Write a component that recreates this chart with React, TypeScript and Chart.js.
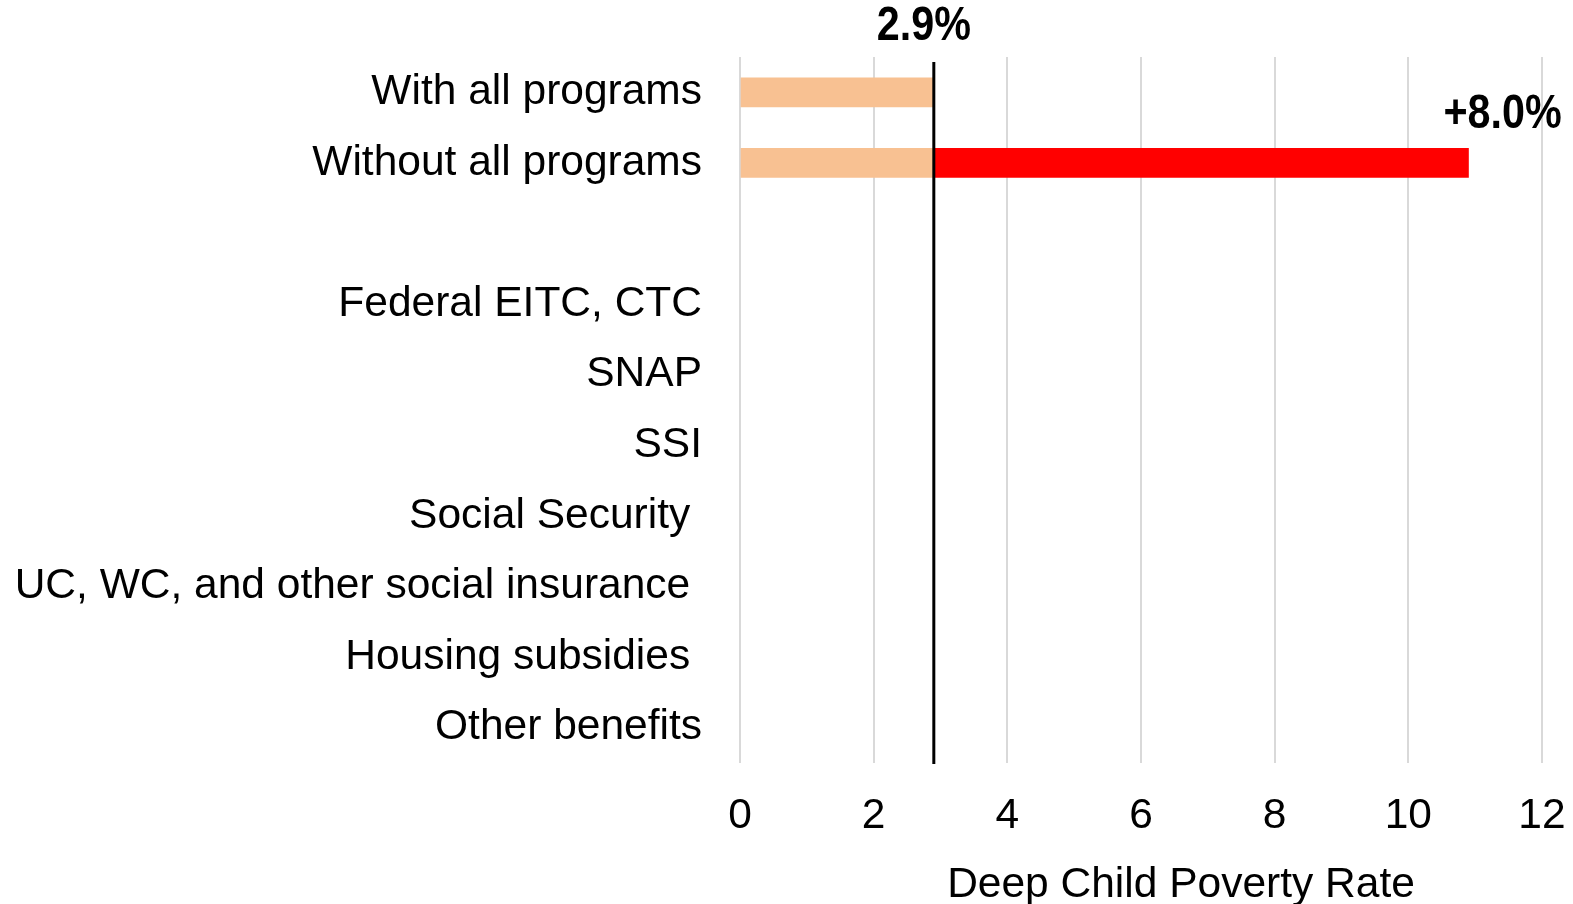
import React, { useEffect, useRef } from "react";
import { Chart, registerables } from "chart.js";

Chart.register(...registerables);

const categories: string[] = [
  "With all programs",
  "Without all programs",
  "",
  "Federal EITC, CTC",
  "SNAP",
  "SSI",
  "Social Security ",
  "UC, WC, and other social insurance ",
  "Housing subsidies ",
  "Other benefits",
];
const baseRate: (number | null)[] = [2.9, 2.9, null, null, null, null, null, null, null, null];
const increase: (number | null)[] = [null, 8.0, null, null, null, null, null, null, null, null];
const baselineValue = 2.9;
const baselineLabel = "2.9%";
const increaseLabel = "+8.0%";
const xTicks = [0, 2, 4, 6, 8, 10, 12];
const axisTitle = "Deep Child Poverty Rate";

const FONT = '"Liberation Sans", Arial, sans-serif';

function drawNarrow(ctx: any, text: string, cx: number, by: number) {
  ctx.save();
  ctx.translate(cx, by);
  ctx.scale(0.86, 1);
  ctx.fillText(text, 0, 0);
  ctx.restore();
}

const overlayPlugin = {
  id: "overlay",
  afterDatasetsDraw(chart: any) {
    const { ctx, scales, chartArea } = chart;
    const x = scales.x;
    const y = scales.y;
    const px = x.getPixelForValue(baselineValue);
    ctx.save();
    ctx.strokeStyle = "#000000";
    ctx.lineWidth = 3;
    ctx.beginPath();
    ctx.moveTo(px, chartArea.top + 5);
    ctx.lineTo(px, chartArea.bottom + 1);
    ctx.stroke();

    ctx.fillStyle = "#000000";
    ctx.font = `bold 48px ${FONT}`;
    ctx.textAlign = "center";
    ctx.textBaseline = "alphabetic";
    drawNarrow(ctx, baselineLabel, px - 10, chartArea.top - 17);

    const endVal = (baseRate[1] as number) + (increase[1] as number);
    const ex = x.getPixelForValue(endVal);
    const ey = y.getPixelForValue(1);
    drawNarrow(ctx, increaseLabel, ex + 34, ey - 35);

    ctx.font = `42.5px ${FONT}`;
    ctx.textBaseline = "middle";
    ctx.fillText(axisTitle, (chartArea.left + chartArea.right) / 2 + 40, 885);
    ctx.restore();
  },
};

export default function App() {
  const ref = useRef<HTMLCanvasElement | null>(null);
  useEffect(() => {
    if (!ref.current) return;
    const chart = new Chart(ref.current, {
      type: "bar",
      data: {
        labels: categories,
        datasets: [
          {
            label: "Base",
            data: baseRate,
            backgroundColor: "#F8C192",
            barThickness: 29,
          },
          {
            label: "Increase",
            data: increase,
            backgroundColor: "#FF0000",
            barThickness: 29,
          },
        ],
      },
      options: {
        indexAxis: "y",
        animation: false,
        responsive: false,
        maintainAspectRatio: false,
        layout: { padding: { top: 57, right: 31, left: 0, bottom: 0 } },
        plugins: {
          legend: { display: false },
          tooltip: { enabled: false },
        },
        scales: {
          x: {
            stacked: true,
            min: 0,
            max: 12,
            afterBuildTicks: (scale: any) => {
              scale.ticks = xTicks.map((v) => ({ value: v }));
            },
            afterFit: (scale: any) => {
              scale.height = 141;
              scale.paddingLeft = 0;
              scale.paddingRight = 0;
            },
            grid: { color: "#D9D9D9", lineWidth: 2, drawTicks: false },
            border: { display: false },
            ticks: {
              color: "#000000",
              font: { family: FONT, size: 42.5 },
              padding: 28,
            },
          },
          y: {
            stacked: true,
            afterFit: (scale: any) => {
              scale.width = 740;
              scale.paddingTop = 0;
              scale.paddingBottom = 0;
            },
            grid: { display: false, drawTicks: false },
            border: { display: false },
            ticks: {
              color: "#000000",
              font: { family: FONT, size: 42.5 },
              padding: 38,
              autoSkip: false,
            },
          },
        },
      },
      plugins: [overlayPlugin],
    } as any);
    return () => chart.destroy();
  }, []);
  return (
    <div style={{ position: "fixed", left: 0, top: 0, width: 1573, height: 904, background: "#fff" }}>
      <canvas ref={ref} width={1573} height={904} style={{ width: 1573, height: 904 }} />
    </div>
  );
}
